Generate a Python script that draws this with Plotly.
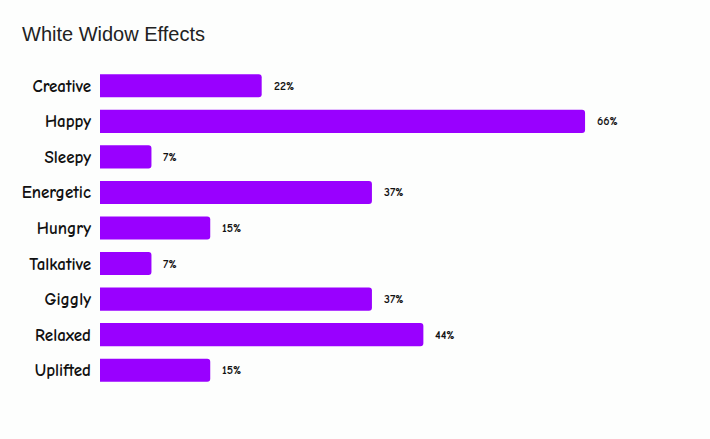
import plotly.graph_objects as go

effects = ["Creative", "Happy", "Sleepy", "Energetic", "Hungry", "Talkative", "Giggly", "Relaxed", "Uplifted"]
percent = [22, 66, 7, 37, 15, 7, 37, 44, 15]
labels = [f"{v}%" for v in percent]

comic = "Comic Sans MS, Comic Neue, Chalkboard, Noto Sans, sans-serif"

fig = go.Figure(go.Bar(
    x=percent, y=[f"<b>{e}</b>" for e in effects], orientation="h",
    marker=dict(color="#9900ff", line=dict(width=0)),
    hoverinfo="skip",
))

for e, v, t in zip(effects, percent, labels):
    fig.add_annotation(x=v, y=f"<b>{e}</b>", text=f"<b>{t}</b>", showarrow=False,
                       xanchor="left", xshift=10,
                       font=dict(family=comic, size=12, color="#111111"))

fig.update_layout(
    width=710, height=439,
    margin=dict(l=100, r=0, t=68, b=51),
    paper_bgcolor="#fdfefd", plot_bgcolor="#fdfefd",
    bargap=0.35, barcornerradius=3,
    title=dict(text="White Widow Effects", x=22/710, xanchor="left", y=1 - 34/439, yanchor="middle",
               font=dict(family="Liberation Sans, Arial, sans-serif", size=20, color="#222222")),
    xaxis=dict(range=[0, 83], visible=False, fixedrange=True),
    yaxis=dict(autorange="reversed", showgrid=False, zeroline=False, showline=False, ticks="",
               ticklabelstandoff=8,
               tickfont=dict(family=comic, size=17, color="#111111"), fixedrange=True),
    showlegend=False,
)

fig.write_html("out.html")
